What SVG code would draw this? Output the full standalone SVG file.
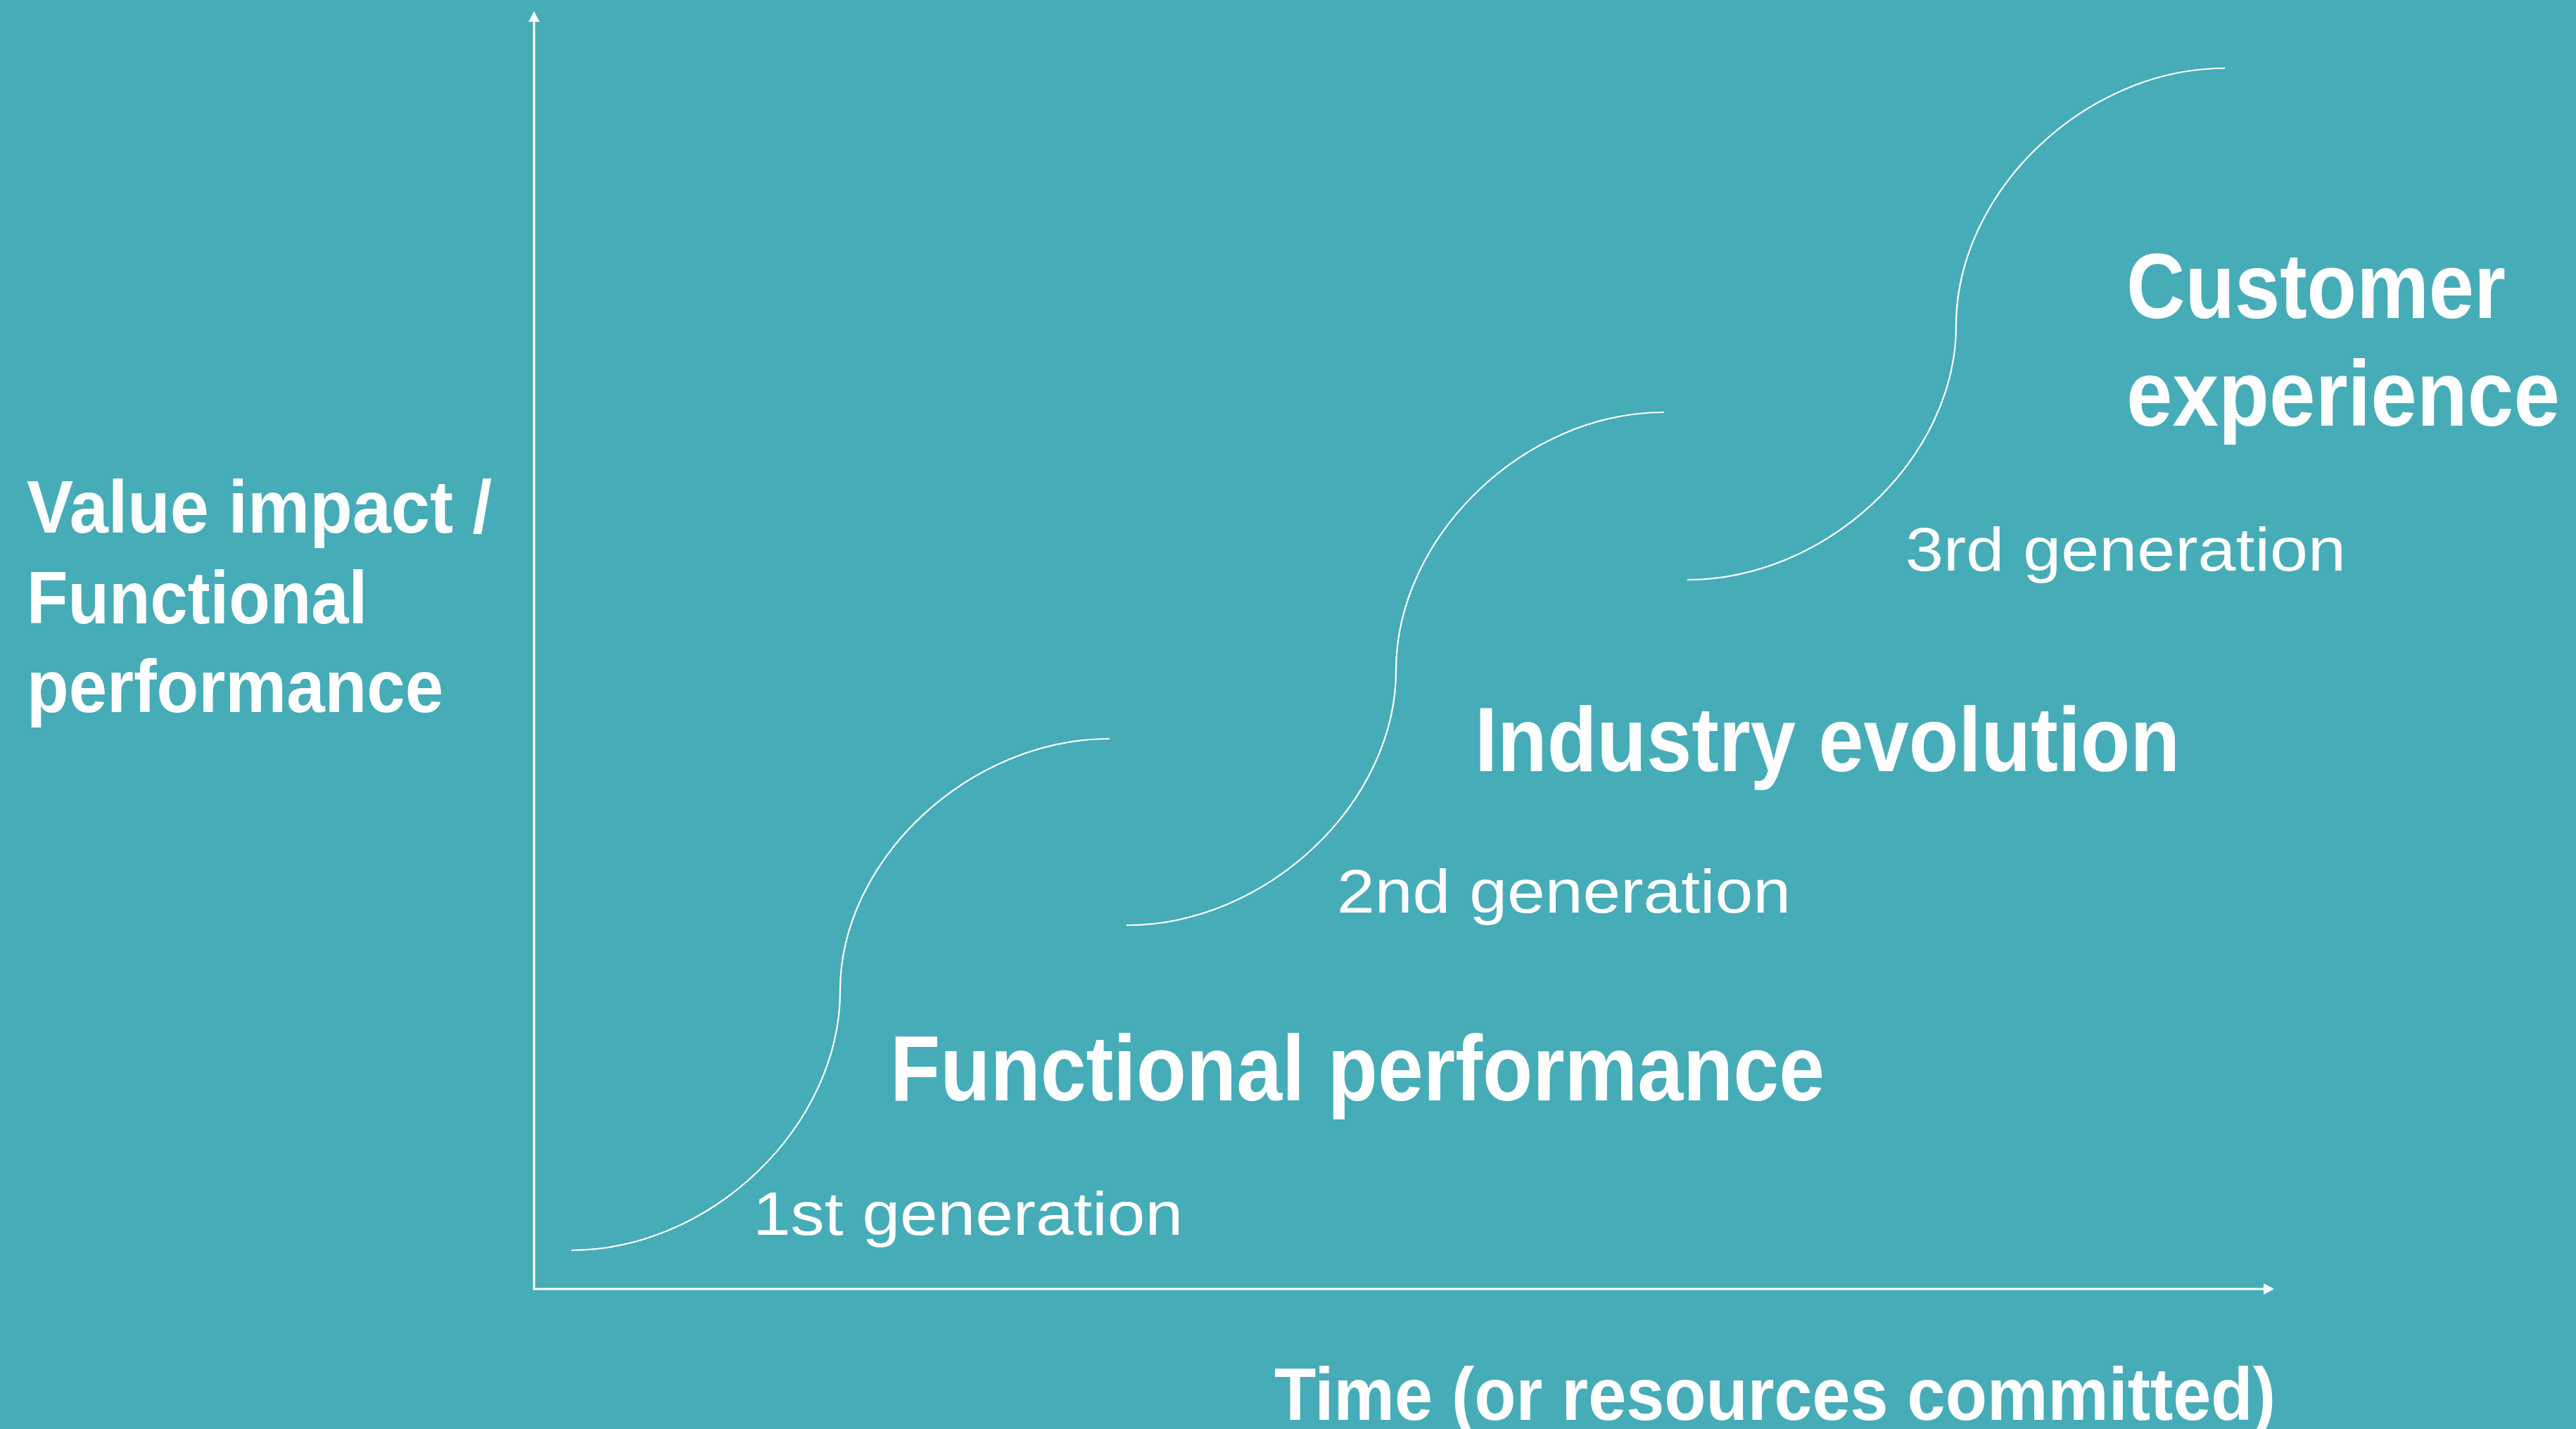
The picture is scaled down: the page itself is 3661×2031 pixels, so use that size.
<svg xmlns="http://www.w3.org/2000/svg" width="3661" height="2031" viewBox="0 0 3661 2031">
  <style>
    .bg { fill: #46acb7; }
    .axis { stroke: #ffffff; stroke-width: 3; fill: none; }
    .curve { stroke: #ffffff; stroke-width: 2.2; fill: none; }
    .title { font-family: "Liberation Sans", Arial, sans-serif; font-weight: 700; fill: #ffffff; }
    .gen { font-family: "Liberation Sans", Arial, sans-serif; font-weight: 400; fill: #ffffff; font-size: 88px; }
  </style>
  <defs>
    <marker id="arrow" markerUnits="userSpaceOnUse" markerWidth="15" markerHeight="16" refX="0" refY="8" orient="auto">
      <path d="M0,0 L15,8 L0,16 z" fill="#ffffff"/>
    </marker>
  </defs>

  <rect class="bg" x="0" y="0" width="3661" height="2031"/>

  <!-- axes -->
  <g id="axes">
    <line class="axis" x1="759" y1="1833" x2="759" y2="31" marker-end="url(#arrow)"/>
    <line class="axis" x1="758" y1="1832" x2="3217" y2="1832" marker-end="url(#arrow)"/>
  </g>

  <!-- axis labels -->
  <g id="y-label">
    <text class="title" font-size="106" x="38" y="757" textLength="661" lengthAdjust="spacingAndGlyphs">Value impact /</text>
    <text class="title" font-size="106" x="38" y="886" textLength="484" lengthAdjust="spacingAndGlyphs">Functional</text>
    <text class="title" font-size="106" x="38" y="1012" textLength="592" lengthAdjust="spacingAndGlyphs">performance</text>
  </g>
  <g id="x-label">
    <text class="title" font-size="106" x="1811" y="2018" textLength="1423" lengthAdjust="spacingAndGlyphs">Time (or resources committed)</text>
  </g>

  <!-- S-curves -->
  <g id="connectors">
    <path class="curve" d="M812,1777 C1010.6,1777 1194,1599.9 1194,1408 C1194,1221.8 1377.8,1050 1577,1050"/>
    <path class="curve" d="M1601,1315 C1800.2,1315 1984,1141.2 1984,953 C1984,762.2 2166.9,586 2365,586"/>
    <path class="curve" d="M2398,824 C2596.6,824 2780,650.7 2780,463 C2780,272.7 2963.4,97 3162,97"/>
  </g>

  <!-- generation 1 -->
  <g id="gen1">
    <text class="gen" x="1070" y="1755" textLength="611" lengthAdjust="spacingAndGlyphs">1st generation</text>
    <text class="title" font-size="131" x="1265" y="1564" textLength="1328" lengthAdjust="spacingAndGlyphs">Functional performance</text>
  </g>

  <!-- generation 2 -->
  <g id="gen2">
    <text class="gen" x="1900" y="1297" textLength="645" lengthAdjust="spacingAndGlyphs">2nd generation</text>
    <text class="title" font-size="129" x="2096" y="1096" textLength="1002" lengthAdjust="spacingAndGlyphs">Industry evolution</text>
  </g>

  <!-- generation 3 -->
  <g id="gen3">
    <text class="gen" x="2708" y="811" textLength="626" lengthAdjust="spacingAndGlyphs">3rd generation</text>
    <text class="title" font-size="131" x="3022" y="452" textLength="539" lengthAdjust="spacingAndGlyphs">Customer</text>
    <text class="title" font-size="131" x="3022" y="605" textLength="616" lengthAdjust="spacingAndGlyphs">experience</text>
  </g>
</svg>
